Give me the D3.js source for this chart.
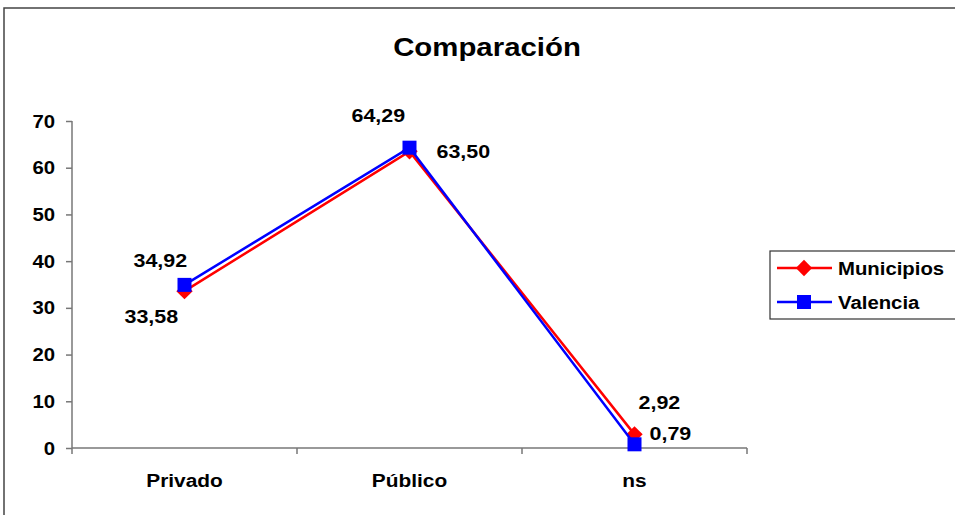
<!DOCTYPE html>
<html>
<head>
<meta charset="utf-8">
<script src="https://cdn.jsdelivr.net/npm/d3@7"></script>
<style>
  body { margin: 0; background: #fff; }
  svg text { font-family: "Liberation Sans", Arial, sans-serif; font-weight: bold; fill: #000; }
</style>
</head>
<body>
<svg id="chart" width="955" height="515"></svg>
<script>
// data
const categories = ["Privado", "Público", "ns"];
const municipios = [33.58, 63.50, 2.92];
const valencia = [34.92, 64.29, 0.79];
const seriesNames = ["Municipios", "Valencia"];
const yTicks = [0, 10, 20, 30, 40, 50, 60, 70];

let svg = d3.select("#chart"),
    width = +svg.attr("width"),
    height = +svg.attr("height");

const stretch = 1.13; // text in the original looks a bit wide

// helper: text drawn with a small horizontal stretch
function addText(g, x, y, str, size, anchor) {
    return g.append("text")
        .attr("transform", "translate(" + x + "," + y + ") scale(" + stretch + ",1)")
        .attr("text-anchor", anchor || "start")
        .style("font-size", size + "px")
        .text(str);
}

// outer frame (only left/top visible in the picture)
svg.append("rect")
    .attr("x", 4).attr("y", 8)
    .attr("width", 980).attr("height", 540)
    .attr("fill", "none")
    .attr("stroke", "#444")
    .attr("stroke-width", 1.5);

// title
addText(svg, 487, 56, "Comparación", 26, "middle");

const x = d3.scaleBand().domain(categories).range([72, 747]);
const y = d3.scaleLinear().domain([0, 70]).range([448, 121]);

// y axis
const yAxis = svg.append("g")
    .attr("transform", "translate(72,0)")
    .call(d3.axisLeft(y).tickValues(yTicks).tickSize(6).tickFormat(""));
yAxis.select(".domain").attr("stroke", "#777").attr("stroke-width", 1.5).attr("d", "M0,448V121");
yAxis.selectAll(".tick line").attr("stroke", "#777").attr("stroke-width", 1.5);
yTicks.forEach(function(t) {
    addText(svg, 55, y(t) + 6.5, String(t), 18, "end");
});

// x axis with ticks between categories
const xAxis = svg.append("g").attr("transform", "translate(0,448)");
xAxis.append("line")
    .attr("x1", 72).attr("x2", 747)
    .attr("stroke", "#777").attr("stroke-width", 1.5);
const xTickPos = categories.map(function(c) { return x(c); }).concat([x.range()[1]]);
xAxis.selectAll("line.tick").data(xTickPos).enter().append("line")
    .attr("class", "tick")
    .attr("x1", function(d) { return d; }).attr("x2", function(d) { return d; })
    .attr("y1", 0).attr("y2", 6)
    .attr("stroke", "#777").attr("stroke-width", 1.5);
categories.forEach(function(c) {
    addText(svg, x(c) + x.bandwidth() / 2, 487, c, 18.5, "middle");
});

const cx = function(i) { return x(categories[i]) + x.bandwidth() / 2; };
const line = d3.line()
    .x(function(d, i) { return cx(i); })
    .y(function(d) { return y(d); });

const diamond = d3.symbol().type(d3.symbolDiamond2).size(170);

// Municipios (red diamonds)
svg.append("path").datum(municipios)
    .attr("d", line).attr("fill", "none")
    .attr("stroke", "#ff0000").attr("stroke-width", 2.5);
svg.selectAll("path.mun").data(municipios).enter().append("path")
    .attr("class", "mun")
    .attr("d", diamond)
    .attr("transform", function(d, i) { return "translate(" + cx(i) + "," + y(d) + ")"; })
    .attr("fill", "#ff0000");

// Valencia (blue squares)
svg.append("path").datum(valencia)
    .attr("d", line).attr("fill", "none")
    .attr("stroke", "#0000ff").attr("stroke-width", 2.5);
svg.selectAll("rect.val").data(valencia).enter().append("rect")
    .attr("class", "val")
    .attr("x", function(d, i) { return cx(i) - 7; })
    .attr("y", function(d) { return y(d) - 7; })
    .attr("width", 14).attr("height", 14)
    .attr("fill", "#0000ff");

// data labels (offsets picked by hand to match the original)
const fmt = function(v) { return v.toFixed(2).replace(".", ","); };
const munOffsets = [[-60, 32], [27, 7], [4, -25]];
const valOffsets = [[-51, -18], [-58, -26], [15, -4]];
municipios.forEach(function(v, i) {
    addText(svg, cx(i) + munOffsets[i][0], y(v) + munOffsets[i][1], fmt(v), 19);
});
valencia.forEach(function(v, i) {
    addText(svg, cx(i) + valOffsets[i][0], y(v) + valOffsets[i][1], fmt(v), 19);
});

// legend
const legend = svg.append("g");
legend.append("rect")
    .attr("x", 770).attr("y", 251)
    .attr("width", 200).attr("height", 68)
    .attr("fill", "#fff").attr("stroke", "#333").attr("stroke-width", 1.2);
const legendColors = ["#ff0000", "#0000ff"];
seriesNames.forEach(function(name, i) {
    const ly = 268 + i * 34;
    legend.append("line")
        .attr("x1", 777).attr("x2", 832).attr("y1", ly).attr("y2", ly)
        .attr("stroke", legendColors[i]).attr("stroke-width", 2.5);
    if (i === 0) {
        legend.append("path").attr("d", diamond)
            .attr("transform", "translate(804," + ly + ")")
            .attr("fill", legendColors[i]);
    } else {
        legend.append("rect")
            .attr("x", 797).attr("y", ly - 7).attr("width", 14).attr("height", 14)
            .attr("fill", legendColors[i]);
    }
    addText(legend, 838, ly + 7, name, 18);
});
</script>
</body>
</html>
